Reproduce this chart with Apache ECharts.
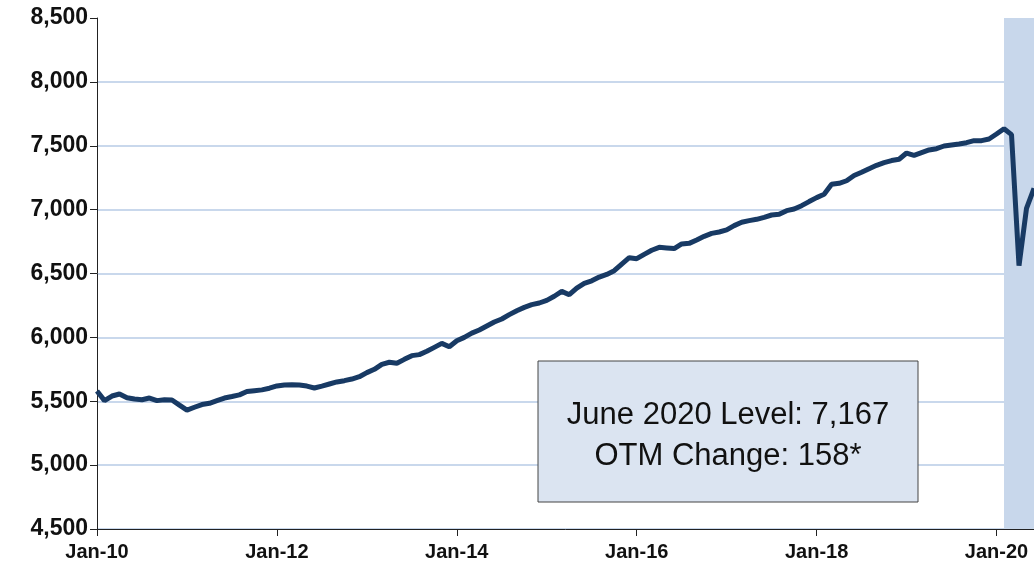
<!DOCTYPE html>
<html>
<head>
    <meta charset="utf-8">
    <title>Level</title>
    <script src="https://cdn.jsdelivr.net/npm/echarts@6/dist/echarts.min.js"></script>
    <style>
        html, body {margin: 0; padding: 0; background: #fff;}
        #main {width: 1034px; height: 570px;}
    </style>
</head>
<body>
<div id="main"></div>
<script type="text/javascript">
    // month labels Jan-10 .. Jun-20
    var monthNames = ['Jan','Feb','Mar','Apr','May','Jun','Jul','Aug','Sep','Oct','Nov','Dec'];
    var years = ['10','11','12','13','14','15','16','17','18','19','20'];
    var categories = [];
    for (var y = 0; y < years.length; y++) {
        for (var m = 0; m < 12; m++) {
            if (years[y] === '20' && m > 5) break;
            categories.push(monthNames[m] + '-' + years[y]);
        }
    }

    // values, one per month
    var levels = [
        5580, 5505, 5541, 5557, 5528, 5518, 5512, 5525, 5505, 5512, 5510, 5470,
        5431, 5453, 5474, 5484, 5505, 5525, 5537, 5550, 5576, 5583, 5589, 5602,
        5620, 5628, 5630, 5627, 5619, 5604, 5619, 5635, 5651, 5661, 5674, 5692,
        5724, 5750, 5789, 5805, 5797, 5828, 5857, 5865, 5891, 5922, 5953, 5927,
        5974, 6000, 6033, 6058, 6089, 6120, 6144, 6178, 6209, 6235, 6256, 6269,
        6290, 6322, 6360, 6334, 6386, 6423, 6443, 6472, 6493, 6522, 6574, 6624,
        6616, 6650, 6682, 6705, 6700, 6695, 6731, 6736, 6762, 6791, 6814, 6825,
        6841, 6875, 6901, 6914, 6924, 6940, 6958, 6963, 6992, 7005, 7031, 7063,
        7094, 7120, 7198, 7206, 7226, 7267, 7292, 7320, 7347, 7368, 7384, 7394,
        7443, 7425, 7446, 7467, 7477, 7498, 7506, 7514, 7524, 7540, 7540, 7553,
        7592, 7633, 7587, 6561, 7010, 7167
    ];

    // shaded recession period
    var shadeStart = 'Feb-20';
    var shadeEnd = 'Jun-20';

    var boxLines = ['June 2020 Level: 7,167', 'OTM Change: 158*'];

    var chart = echarts.init(document.getElementById('main'));

    chart.setOption({
        animation: false,
        grid: {left: 97, right: 0, top: 18, bottom: 41, containLabel: false},
        xAxis: {
            type: 'category',
            data: categories,
            boundaryGap: false,
            axisLine: {lineStyle: {color: '#222', width: 1}},
            axisTick: {show: true, interval: 23, length: 7, inside: false, lineStyle: {color: '#222'}},
            axisLabel: {
                interval: 23,
                margin: 13,
                color: '#111',
                fontFamily: 'Liberation Sans, Arial, sans-serif',
                fontWeight: 'bold',
                fontSize: 20
            },
            splitLine: {show: false}
        },
        yAxis: {
            type: 'value',
            min: 4500,
            max: 8500,
            interval: 500,
            axisLine: {show: true, lineStyle: {color: '#222', width: 1}},
            axisTick: {show: true, length: 7, lineStyle: {color: '#222'}},
            axisLabel: {
                margin: 9,
                color: '#111',
                fontFamily: 'Liberation Sans, Arial, sans-serif',
                fontWeight: 'bold',
                fontSize: 23,
                formatter: function (v) { return v.toLocaleString('en-US'); }
            },
            splitLine: {
                show: true,
                lineStyle: {
                    width: 2,
                    color: ['#c9d8ec','#c9d8ec','#c9d8ec','#c9d8ec','#c9d8ec','#c9d8ec','#c9d8ec','#c9d8ec','rgba(0,0,0,0)']
                }
            }
        },
        series: [
            {
                type: 'line',
                data: levels,
                symbol: 'none',
                lineStyle: {color: '#183a64', width: 5},
                z: 3,
                markArea: {
                    silent: true,
                    itemStyle: {color: '#c8d7eb'},
                    data: [[{xAxis: shadeStart}, {xAxis: shadeEnd}]]
                }
            }
        ],
        graphic: [
            {
                type: 'rect',
                z: 100,
                shape: {x: 538, y: 361, width: 380, height: 141},
                style: {fill: '#dbe4f1', stroke: '#444', lineWidth: 1}
            },
            {
                type: 'text',
                z: 101,
                x: 728,
                y: 415,
                style: {
                    text: boxLines[0],
                    fill: '#111',
                    fontSize: 31,
                    fontFamily: 'Liberation Sans',
                    align: 'center',
                    verticalAlign: 'middle'
                }
            },
            {
                type: 'text',
                z: 101,
                x: 728,
                y: 456,
                style: {
                    text: boxLines[1],
                    fill: '#111',
                    fontSize: 31,
                    fontFamily: 'Liberation Sans',
                    align: 'center',
                    verticalAlign: 'middle'
                }
            }
        ]
    });
</script>
</body>
</html>
